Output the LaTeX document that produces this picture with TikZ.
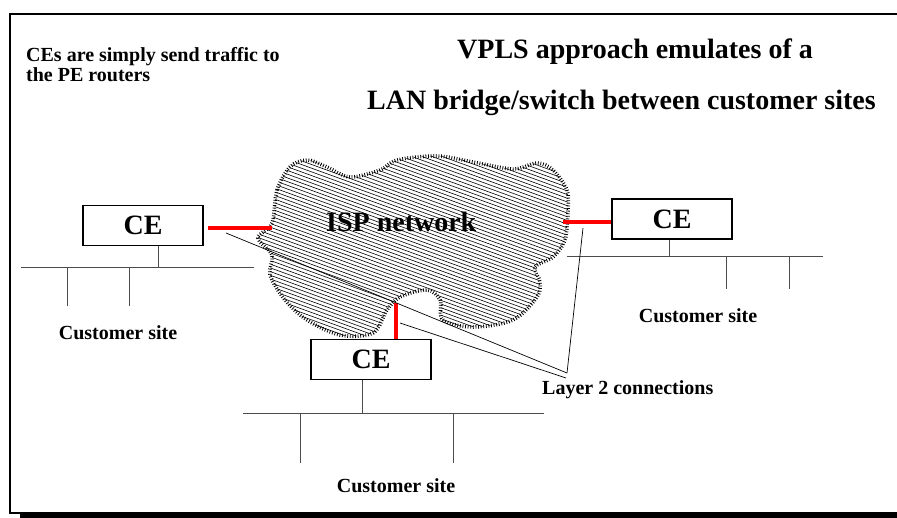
\documentclass[tikz,border=0pt]{standalone}
\usepackage{fontspec}
\setmainfont{Liberation Serif}
\tikzset{
  cebox/.style    = {draw, line width=1.6pt, minimum width=120pt,
                     minimum height=40pt, inner sep=0pt,
                     font=\fontsize{28}{28}\selectfont\bfseries},
  heading/.style  = {inner sep=0pt, font=\fontsize{28}{28}\selectfont\bfseries},
  sitetext/.style = {inner sep=0pt, font=\fontsize{20}{20}\selectfont\bfseries},
  bus/.style      = {draw=black!70, line width=0.9pt},
  access/.style   = {draw=red, line width=3.5pt},
  l2link/.style   = {draw, line width=0.7pt},
  hatch/.style    = {draw, line width=0.6pt},
  ispedge/.style  = {draw, line width=3.6pt, dash pattern=on 0.8pt off 1.8pt}
}
\newcommand{\ispcloud}{plot[smooth cycle, tension=0.55] coordinates {
    (272,223) (277,190) (290,167) (307,160) (327,167) (350,177)
    (380,170) (397,160) (437,156) (473,162) (513,169) (537,163)
    (553,170) (567,190) (568,210) (565,240) (553,257) (535,267)
    (540,282) (537,297) (513,320) (473,327) (443,320) (440,300)
    (427,290) (400,297) (387,310) (373,333) (340,335) (307,320)
    (285,300) (270,275) (272,255) (258,238)}}

\begin{document}
\begin{tikzpicture}[x=1pt,y=-1pt]
  \useasboundingbox (0,0) rectangle (897,518);
  % frame and its shadow
  \fill (20,513) rectangle (897,518);
  \draw[line width=2pt] (897,14) -- (10,14) -- (10,513) -- (897,513);

  % the provider cloud
  \begin{scope}
    \clip \ispcloud;
    \foreach \k in {20,23.7,...,345}
      \draw[hatch] (250,\k) -- (580,\k+120);
  \end{scope}
  \path[ispedge] \ispcloud;
  \node[heading, anchor=base west] (isp) at (326,232) {ISP network};

  % texts
  \node[sitetext, anchor=north west, align=left] (note) at (26,47)
    {CEs are simply send traffic to\\the PE routers};
  \node[heading, anchor=base west] (title1) at (457,59) {VPLS approach emulates of a};
  \node[heading, anchor=base west] (title2) at (367,110) {LAN bridge/switch between customer sites};

  % customer edges
  \node[cebox] (ceL) at (143,225.5) {CE};
  \node[cebox] (ceR) at (672,219) {CE};
  \node[cebox] (ceB) at (371,359.5) {CE};

  % sites
  \coordinate (stubL) at (158,267);
  \coordinate (stubR) at (669,256);
  \coordinate (stubB) at (362,413);
  \draw[bus] (stubL |- ceL.south) -- (stubL);
  \draw[bus] (stubR |- ceR.south) -- (stubR);
  \draw[bus] (stubB |- ceB.south) -- (stubB);
  \foreach \a/\b/\y in {21/254/267, 567/823/256, 243/544/413}
    \draw[bus] (\a,\y) -- (\b,\y);
  \foreach \x/\y/\z in {67/267/306, 129/267/306, 726/256/289,
                        789/256/289, 300/413/463, 453/413/463}
    \draw[bus] (\x,\y) -- (\x,\z);
  \node[sitetext, anchor=base] (siteL) at (118,340) {Customer site};
  \node[sitetext, anchor=base] (siteR) at (698,323) {Customer site};
  \node[sitetext, anchor=base] (siteB) at (396,492) {Customer site};

  % access links to the PE side
  \coordinate (peL) at (272,228);
  \coordinate (peR) at (563,222);
  \coordinate (peB) at (396,303);
  \draw[access] (208,228) -- (peL);
  \draw[access] (peR) -- (ceR.west |- peR);
  \draw[access] (peB) -- (peB |- ceB.north);

  % layer 2 connections
  \node[sitetext, anchor=base west] (l2) at (542,395) {Layer 2 connections};
  \coordinate (hubA) at (567,373);
  \coordinate (hubB) at (566,378);
  \draw[l2link] (226,233) -- (hubA);
  \draw[l2link] (583,228) -- (hubA);
  \draw[l2link] (400,323) -- (hubB);
\end{tikzpicture}
\end{document}
